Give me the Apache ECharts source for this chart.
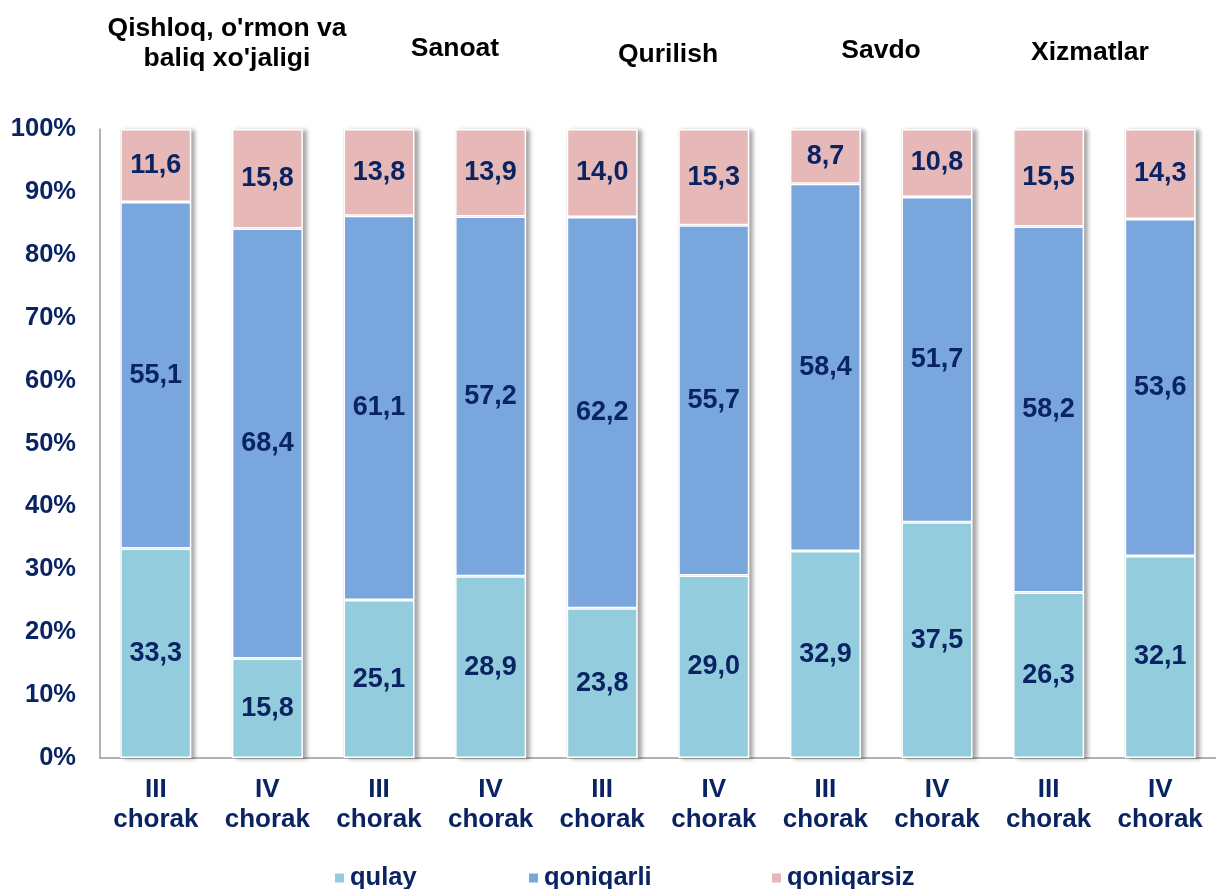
<!DOCTYPE html>
<html>
<head>
<meta charset="utf-8">
<script src="https://cdn.jsdelivr.net/npm/echarts@6/dist/echarts.min.js"></script>
<style>
  html, body { margin: 0; padding: 0; background: #fff; }
  #chart { width: 1216px; height: 889px; }
</style>
</head>
<body>
<div id="chart"></div>
<script>
const quarters = ["III\nchorak", "IV\nchorak", "III\nchorak", "IV\nchorak", "III\nchorak",
    "IV\nchorak", "III\nchorak", "IV\nchorak", "III\nchorak", "IV\nchorak"]
const sectors = ["Qishloq, o'rmon va\nbaliq xo'jaligi", "Sanoat", "Qurilish", "Savdo", "Xizmatlar"]
const qulay = [33.3, 15.8, 25.1, 28.9, 23.8, 29.0, 32.9, 37.5, 26.3, 32.1]
const qoniqarli = [55.1, 68.4, 61.1, 57.2, 62.2, 55.7, 58.4, 51.7, 58.2, 53.6]
const qoniqarsiz = [11.6, 15.8, 13.8, 13.9, 14.0, 15.3, 8.7, 10.8, 15.5, 14.3]

const navy = "#0a2463"
const font = "Liberation Sans, Arial, sans-serif"

// where each sector heading sits (it is not exactly centred over its pair)
const titlePos = [[222, 9], [450, 29], [663, 35], [876, 31], [1085, 33]]

const chart = echarts.init(document.getElementById("chart"))

const makeSeries = (name, data, color) => ({
    name,
    type: "bar",
    stack: "total",
    barWidth: 71,
    data,
    itemStyle: {
        color,
        borderColor: "#fff",
        borderWidth: 1.5,
    },
    label: {
        show: true,
        position: "inside",
        color: navy,
        fontFamily: font,
        fontWeight: "bold",
        fontSize: 27,
        formatter: p => p.value.toFixed(1).replace(".", ","),
    },
})

const legendAt = (name, left) => ({
    data: [name],
    left,
    top: 860,
    icon: "rect",
    itemWidth: 11,
    itemHeight: 11,
    itemGap: 0,
    textStyle: { color: navy, fontFamily: font, fontWeight: "bold", fontSize: 25.5 },
})

const series = [
    makeSeries("qulay", qulay, "#93cddd"),
    makeSeries("qoniqarli", qoniqarli, "#78a6dd"),
    makeSeries("qoniqarsiz", qoniqarsiz, "#e6b9b8"),
]
// the full-height background of the first series carries the drop shadow
series[0].showBackground = true
series[0].backgroundStyle = {
    color: "#b8b8b8",
    shadowColor: "rgba(0,0,0,0.35)",
    shadowBlur: 4,
    shadowOffsetX: 4,
    shadowOffsetY: 1,
}

chart.setOption({
    animation: false,
    title: sectors.map((s, i) => ({
        text: s,
        left: titlePos[i][0],
        top: titlePos[i][1],
        textAlign: "center",
        textStyle: { color: "#000", fontFamily: font, fontWeight: "bold", fontSize: 26.5, lineHeight: 30 },
    })),
    legend: [legendAt("qulay", 328), legendAt("qoniqarli", 522), legendAt("qoniqarsiz", 765)],
    grid: { left: 100, top: 129, width: 1119, bottom: 131 },
    xAxis: {
        type: "category",
        data: quarters,
        axisLine: { lineStyle: { color: "#999", width: 1.5 } },
        axisTick: { show: false },
        axisLabel: {
            color: navy,
            fontFamily: font,
            fontWeight: "bold",
            fontSize: 26,
            lineHeight: 30,
            margin: 17,
            interval: 0,
        },
    },
    yAxis: {
        type: "value",
        min: 0,
        max: 100,
        interval: 10,
        splitLine: { show: false },
        axisLine: { show: true, lineStyle: { color: "#999", width: 1.5 } },
        axisTick: { show: false },
        axisLabel: {
            color: navy,
            fontFamily: font,
            fontWeight: "bold",
            fontSize: 25.5,
            margin: 24,
            formatter: "{value}%",
        },
    },
    series,
})
</script>
</body>
</html>
